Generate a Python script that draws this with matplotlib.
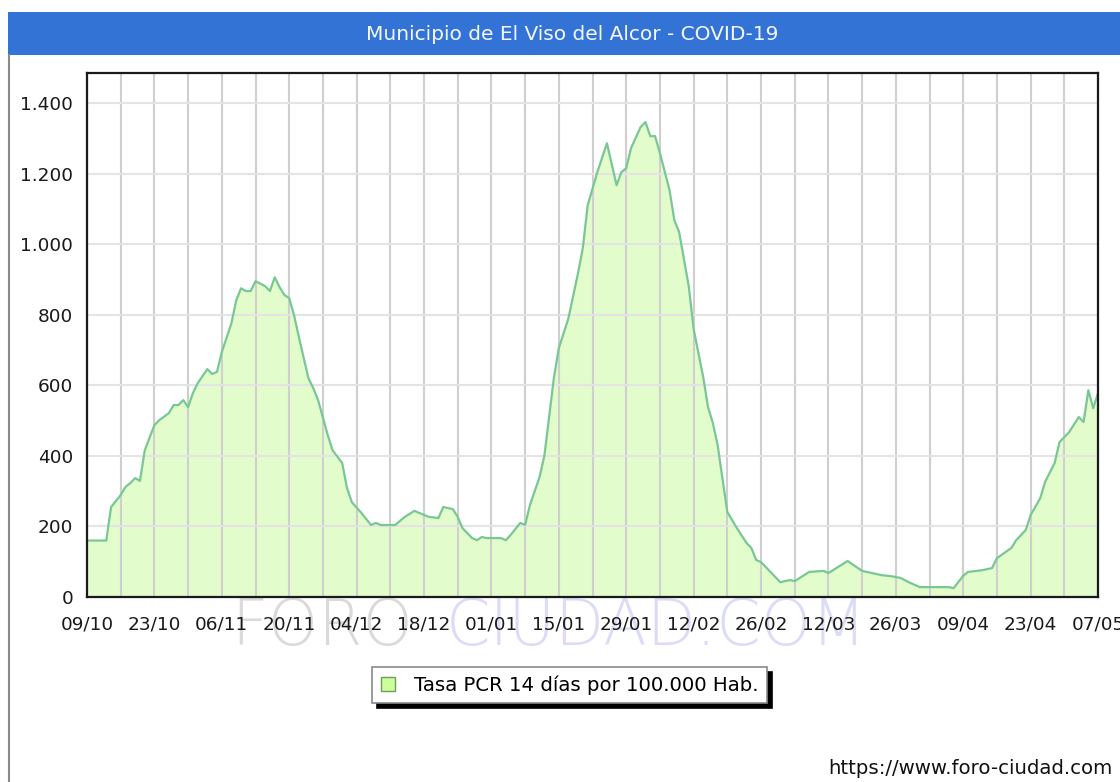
import matplotlib
matplotlib.use("Agg")
import matplotlib.pyplot as plt
from matplotlib.patches import Rectangle, Patch
from matplotlib.lines import Line2D
import numpy as np

# ---------------- data ----------------
start_label = "09/10"
days = [0, 4, 5, 7, 8, 9, 10, 11, 12, 14, 15, 17, 18, 19, 20, 21, 22, 23, 25, 26,
        27, 28, 30, 31, 32, 33, 34, 35, 37, 38, 39, 40, 41, 42, 43, 44, 46, 47, 48, 50,
        51, 53, 54, 55, 57, 59, 60, 61, 64, 66, 68, 71, 73, 74, 76, 77, 78, 80, 81, 82,
        83, 86, 87, 88, 90, 91, 92, 94, 95, 97, 98, 100, 102, 103, 104, 106, 108, 110, 111, 112,
        113, 115, 116, 117, 118, 119, 121, 122, 123, 125, 126, 128, 129, 130, 131, 133, 135, 137, 138, 139,
        140, 144, 146, 147, 150, 153, 154, 158, 161, 165, 167, 169, 171, 173, 179, 180, 182, 183, 186, 188,
        189, 192, 193, 195, 196, 198, 199, 201, 202, 204, 206, 207, 208, 209, 210]
values = [160, 160, 255, 289, 312, 323, 337, 329, 416, 487, 501, 521, 544, 544, 558, 538, 578, 606, 646, 632,
          638, 694, 776, 841, 875, 867, 867, 895, 881, 867, 906, 878, 856, 847, 799, 737, 620, 592, 558, 459,
          416, 380, 309, 269, 238, 204, 210, 204, 204, 227, 244, 227, 224, 255, 249, 227, 195, 167, 161, 170,
          167, 167, 161, 176, 210, 204, 260, 340, 400, 623, 705, 790, 918, 990, 1110, 1204, 1286, 1167, 1204, 1215,
          1272, 1332, 1346, 1306, 1306, 1258, 1153, 1068, 1034, 880, 760, 623, 538, 493, 430, 241, 195, 153, 139, 105,
          99, 42, 48, 45, 71, 74, 68, 102, 74, 62, 59, 54, 40, 28, 28, 25, 60, 71, 76, 82,
          110, 139, 161, 190, 232, 280, 326, 380, 439, 467, 510, 496, 586, 535, 578]

x_tick_labels = ["09/10", "23/10", "06/11", "20/11", "04/12", "18/12", "01/01", "15/01",
                 "29/01", "12/02", "26/02", "12/03", "26/03", "09/04", "23/04", "07/05"]
y_ticks = [0, 200, 400, 600, 800, 1000, 1200, 1400]
y_tick_labels = ["0", "200", "400", "600", "800", "1.000", "1.200", "1.400"]

title = "Municipio de El Viso del Alcor - COVID-19"
legend_label = "Tasa PCR 14 días por 100.000 Hab."
url = "https://www.foro-ciudad.com"

# ---------------- figure ----------------
W, H = 1120, 782
fig = plt.figure(figsize=(W / 100, H / 100), dpi=100)
fig.patch.set_facecolor("white")

def fx(px):
    return px / W

def fy(py):
    return 1 - py / H

# title bar
fig.patches.append(Rectangle((fx(8), fy(55)), fx(1120) - fx(8), fy(12) - fy(55),
                             transform=fig.transFigure, facecolor="#3473d6",
                             edgecolor="none", zorder=0))
fig.text(fx(572), fy(35), title, color="#f4f7fd", fontsize=14.5,
         ha="center", va="center", family="DejaVu Sans")
# left border line
fig.lines.append(Line2D([fx(8.5), fx(8.5)], [fy(55), fy(782)], transform=fig.transFigure,
                        color="#8a8a8a", lw=1.5))

# watermark
fig.text(fx(231), fy(645), "FORO", fontsize=46, color="#dadada", ha="left",
         va="baseline", family="DejaVu Sans", fontweight="light", zorder=-1)
fig.text(fx(446), fy(645), "CIUDAD.COM", fontsize=46, color="#dcdcf8", ha="left",
         va="baseline", family="DejaVu Sans", fontweight="light", zorder=-1)

# axes
left, right, top, bottom = 87, 1098, 73, 597
ax = fig.add_axes([fx(left), fy(bottom), fx(right) - fx(left), fy(top) - fy(bottom)])
ax.set_facecolor("white")

total_days = 7 * (len(x_tick_labels) - 1) * 2
ax.fill_between(days, values, 0, facecolor="#e3fccb", edgecolor="none", zorder=1)
ax.plot(days, values, color="#79c795", lw=1.6, zorder=2)

ax.set_xlim(0, total_days)
ax.set_ylim(0, 1485)

week_ticks = list(range(0, total_days + 1, 7))
ax.set_xticks(week_ticks)
lbls = []
for i, t in enumerate(week_ticks):
    lbls.append(x_tick_labels[i // 2] if i % 2 == 0 else "")
ax.set_xticklabels(lbls)
ax.set_yticks(y_ticks)
ax.set_yticklabels(y_tick_labels)
ax.tick_params(axis="both", length=0, labelsize=13.3, colors="#1a1a1a")
ax.tick_params(axis="x", pad=13)
ax.tick_params(axis="y", pad=10)

ax.set_axisbelow("line")
ax.xaxis.grid(True, color="#cfcfcf", lw=1.5)
ax.yaxis.grid(True, color="#e4e4e4", lw=1.5)
for s in ax.spines.values():
    s.set_color("#1a1a1a")
    s.set_linewidth(1.6)
    s.set_zorder(3)

# legend
handle = Patch(facecolor="#ccff99", edgecolor="#6f9a62", lw=1.0)
leg = fig.legend([handle], [legend_label], loc="center",
                 bbox_to_anchor=(fx(569.5), fy(685)), fontsize=14.2,
                 frameon=True, fancybox=False, handlelength=0.72, handleheight=0.72,
                 handletextpad=0.95, borderpad=0.42, borderaxespad=0,
                 shadow={"color": "black", "alpha": 1.0, "ox": 3.6, "oy": -3.6})
leg.get_frame().set_edgecolor("#8a8a8a")
leg.get_frame().set_linewidth(1.2)

fig.text(fx(1113), fy(768), url, fontsize=14.2, color="#111111", ha="right", va="center")

fig.savefig("out.png", dpi=100, facecolor="white")
